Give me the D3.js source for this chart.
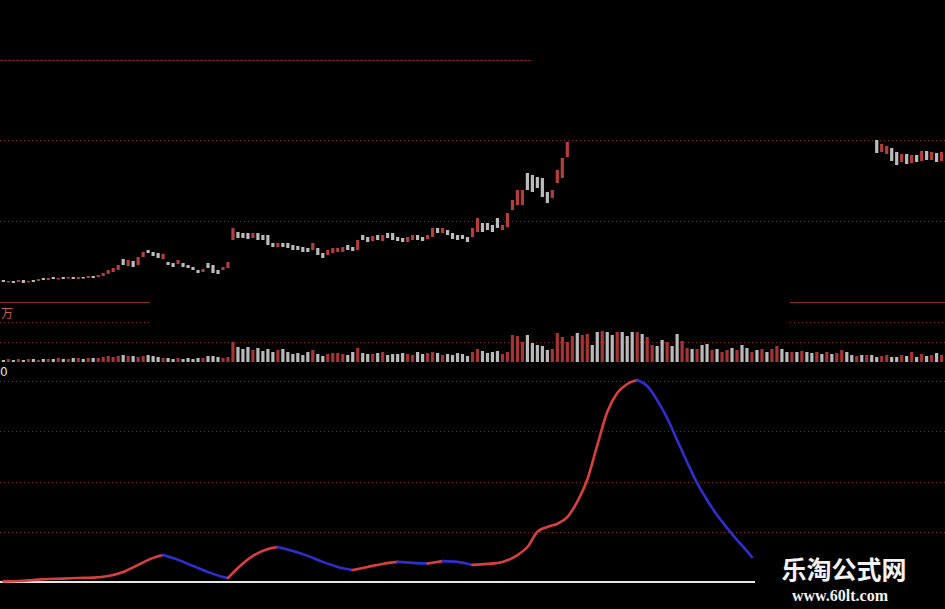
<!DOCTYPE html>
<html><head><meta charset="utf-8">
<script src="https://cdn.jsdelivr.net/npm/d3@7"></script>
<style>html,body{margin:0;padding:0;background:#000;overflow:hidden}</style>
</head><body>
<svg id="chart" width="945" height="609"></svg>
<script>
// ---------- DATA ----------
const barCount = 189;
// left candles (index 0..113)
const leftOpen  = [3.0,2.8,2.9,2.8,3.0,2.8,3.0,2.9,3.2,3.0,3.3,3.1,3.3,3.2,3.3,3.1,3.3,3.2,3.4,3.3,
  3.4,3.6,3.8,4.0,5.1,4.4,4.9,4.5,5.3,6.0,5.8,5.7,5.1,4.8,4.7,4.6,4.7,4.5,4.3,4.0,
  3.8,4.7,4.5,4.0,4.0,4.2,7.0,7.8,7.7,7.7,7.2,7.7,7.5,7.5,6.7,6.3,6.7,6.7,6.5,6.4,
  6.3,6.2,6.0,6.2,5.7,5.5,5.7,5.8,5.8,6.5,6.3,6.0,7.5,7.3,6.9,7.5,6.9,7.7,7.7,7.3,
  7.2,6.8,7.0,7.5,7.3,7.1,7.3,8.2,7.7,8.0,7.7,7.5,7.5,7.3,7.3,7.8,8.7,8.7,8.5,9.2,
  8.0,8.3,10.0,10.5,10.5,13.7,13.5,13.3,13.2,11.8,11.2,12.7,13.2,15.3];
const leftClose = [2.8,2.9,2.7,3.0,2.7,2.9,2.8,3.1,3.0,3.2,3.1,3.2,3.1,3.3,3.1,3.3,3.2,3.4,3.2,3.5,
  3.7,4.0,4.2,4.5,4.5,5.0,4.3,5.3,5.8,5.7,5.4,5.2,5.6,4.5,4.3,5.0,4.3,4.2,4.0,3.7,
  4.1,4.2,3.7,3.6,4.3,4.8,8.2,7.2,7.2,7.1,7.7,7.0,7.0,6.5,6.3,6.7,6.3,6.2,6.0,6.0,
  5.8,5.8,6.7,5.5,5.2,6.0,6.2,6.2,6.3,6.0,5.9,7.0,7.0,6.8,7.4,7.0,7.5,7.2,7.0,6.9,
  6.8,7.3,7.5,7.0,6.9,7.5,8.2,7.7,8.2,7.5,7.1,7.0,7.1,6.8,8.2,9.2,7.8,8.0,7.8,8.2,
  8.5,9.7,11.0,12.0,12.0,12.0,11.8,12.2,11.3,10.7,12.0,14.0,15.2,16.8];
// right candles (index 175..188)
const rightStart = 175;
const rightOpen  = [17.0,15.8,15.6,16.2,15.8,14.8,15.6,14.7,15.5,14.9,15.9,15.0,15.7,14.9];
const rightClose = [15.7,16.6,16.4,14.9,14.5,15.6,14.6,15.5,14.8,15.9,15.0,15.8,14.8,15.8];

// volume (万)
const volume = [2,3,2,3,2,3,3,2,3,3,3,4,3,3,4,4,3,4,4,4,
  5,6,5,6,7,6,6,5,6,7,6,5,4,4,3,4,3,4,3,4,
  4,6,6,5,4,5,20,15,13,15,12,14,11,13,10,12,13,10,8,9,
  7,10,12,8,6,8,9,9,8,7,10,14,9,8,8,9,10,7,8,8,
  9,8,7,10,8,9,10,9,7,8,7,9,8,6,10,13,11,9,10,11,
  8,10,27,26,20,27,19,17,16,12,13,29,25,20,26,29,27,28,17,30,
  31,30,27,30,30,26,30,30,28,25,17,16,22,20,16,28,21,14,13,13,
  17,18,12,13,10,12,14,12,17,14,10,12,13,10,13,16,13,10,10,10,
  11,10,9,10,8,10,8,9,12,10,7,6,7,7,7,5,6,7,5,5,
  7,6,10,5,8,6,7,9,7];
// direction of volume bars with no visible candle (index 114..174): R = up, W = down
const midDir = "RWRRWWRWWRWWWRWRRWWRWWRRWRWWRWRRWRWWRWRWRRWWRWRWWRWRWRRWWRWRW";

// oscillator curve
const curveIdx = [0,3,6,9,12,15,18,21,24,27,30,32,35,38,41,44,45,47,50,53,55,58,61,64,67,70,73,76,79,82,85,88,91,94,97,100,
  103,105,107,109,111,113,115,117,119,121,123,125,127,129,131,133,135,137,139,141,143,145,147,149,150];
const curveVal = [0.3,0.5,1.0,1.5,1.7,2.0,2.2,3.0,5.0,8.5,12,13.4,11,8,5,2.5,2,7,13,16.4,17.4,15.4,13,10,7.5,6,7.5,9,10,9.5,9.2,10.4,10,8.5,9,10,
  13.4,17.4,25,27.4,29,32.3,40,51,68,84.6,94,98.5,100.5,97.5,90.5,81.6,70.6,59.7,49.3,40.8,33.3,26.9,20.9,15.4,12.4];

const priceGridFull = [17, 8.9];
const priceGridTop = [25];
const volGrid = [20];
const volGridSide = [40];
const volSolidSide = [60];
const indGrid = [25, 50, 75, 100];

// ---------- SCALES ----------
const W = 945, H = 609;
const svg = d3.select("#chart");
svg.append("rect").attr("width", W).attr("height", H).attr("fill", "#000");

const x = d3.scaleBand().domain(d3.range(barCount)).range([0, W]).padding(0.36);
const xc = i => x(i) + x.bandwidth() / 2;
const yPrice = d3.scaleLinear().domain([0, 25]).range([310, 60]);
const yVol = d3.scaleLinear().domain([0, 60]).range([362, 302]);
const yInd = d3.scaleLinear().domain([0, 100]).range([582, 381]);

const gridColor = "#7a2424";
function hline(y, x0, x1, dash, color, width) {
  svg.append("line").attr("x1", x0).attr("x2", x1).attr("y1", y).attr("y2", y)
    .attr("stroke", color).attr("stroke-width", width || 1)
    .attr("stroke-dasharray", dash || null);
}
// price panel grid
priceGridTop.forEach(v => hline(Math.round(yPrice(v)) + 0.5, 0, 532, "3,1", "#6a2222", 1.6));
priceGridFull.forEach(v => hline(Math.round(yPrice(v)) + 0.5, 0, W, "1,3", gridColor));
// volume grid
volSolidSide.forEach(v => { hline(yVol(v) + 0.5, 0, 150, null, "#8a2c2c", 1.2); hline(yVol(v) + 0.5, 790, W, null, "#8a2c2c", 1.2); });
volGridSide.forEach(v => { hline(yVol(v) + 0.5, 0, 150, "1,3", gridColor); hline(yVol(v) + 0.5, 790, W, "1,3", gridColor); });
volGrid.forEach(v => hline(yVol(v) + 0.5, 0, W, "1,3", gridColor));
// indicator grid
indGrid.forEach(v => hline(Math.round(yInd(v)) + 0.5, 0, W, "1,3", gridColor));

// ---------- CANDLES ----------
const candles = [];
leftOpen.forEach((o, i) => candles.push({ i, o, c: leftClose[i] }));
rightOpen.forEach((o, k) => candles.push({ i: rightStart + k, o, c: rightClose[k] }));
const upCol = "#c84444", downCol = "#cfcfcf";
svg.append("g").selectAll("rect").data(candles).join("rect")
  .attr("x", d => x(d.i))
  .attr("width", x.bandwidth())
  .attr("y", d => yPrice(Math.max(d.o, d.c)))
  .attr("height", d => Math.max(1.5, Math.abs(yPrice(d.o) - yPrice(d.c))))
  .attr("fill", d => d.c >= d.o ? upCol : downCol)
  .attr("opacity", 0.9);

// ---------- VOLUME ----------
const candleMap = new Map(candles.map(d => [d.i, d]));
const isUp = i => {
  const c = candleMap.get(i);
  if (c) return c.c >= c.o;
  return midDir[i - 114] === "R";
};
svg.append("g").selectAll("rect").data(volume).join("rect")
  .attr("x", (d, i) => x(i))
  .attr("width", x.bandwidth())
  .attr("y", d => yVol(d))
  .attr("height", d => yVol(0) - yVol(d))
  .attr("fill", (d, i) => isUp(i) ? "#b83a3a" : "#cdcdcd")
  .attr("opacity", 0.9);

// ---------- INDICATOR ----------
hline(582, 0, 755, null, "#e6e6e6", 2);
const pts = curveIdx.map((d, k) => ({ x: xc(d), y: yInd(curveVal[k]) }));
const runs = [];
let cur = [pts[0]], dir = null;
for (let k = 1; k < pts.length; k++) {
  const d = curveVal[k] >= curveVal[k - 1] ? "up" : "down";
  if (dir === null || d === dir) { cur.push(pts[k]); dir = d; }
  else { runs.push({ dir, pts: cur }); cur = [pts[k - 1], pts[k]]; dir = d; }
}
runs.push({ dir, pts: cur });
const line = d3.line().x(d => d.x).y(d => d.y).curve(d3.curveMonotoneX);
svg.append("g").selectAll("path").data(runs).join("path")
  .attr("d", r => line(r.pts))
  .attr("fill", "none")
  .attr("stroke", r => r.dir === "up" ? "#d84040" : "#2f2fd0")
  .attr("stroke-width", 2.6)
  .attr("stroke-linecap", "round");

// ---------- LABELS ----------
svg.append("text").attr("x", 1).attr("y", 318).text("万")
  .attr("fill", "#c85a5a").attr("font-size", 12).attr("font-family", "Noto Sans CJK SC");
svg.append("text").attr("x", 0).attr("y", 376).text("0")
  .attr("fill", "#e0e0e0").attr("font-size", 12).attr("font-family", "DejaVu Sans");

// watermark
svg.append("text").attr("x", 844).attr("y", 579).attr("text-anchor", "middle").text("乐淘公式网")
  .attr("fill", "#f2f2f2").attr("font-size", 25).attr("font-weight", "bold")
  .attr("font-family", "Noto Sans CJK SC");
svg.append("text").attr("x", 840).attr("y", 601).attr("text-anchor", "middle").text("www.60lt.com")
  .attr("fill", "#f2f2f2").attr("font-size", 16).attr("font-weight", "bold")
  .attr("font-family", "Liberation Serif, DejaVu Serif, serif");
</script>
</body></html>
